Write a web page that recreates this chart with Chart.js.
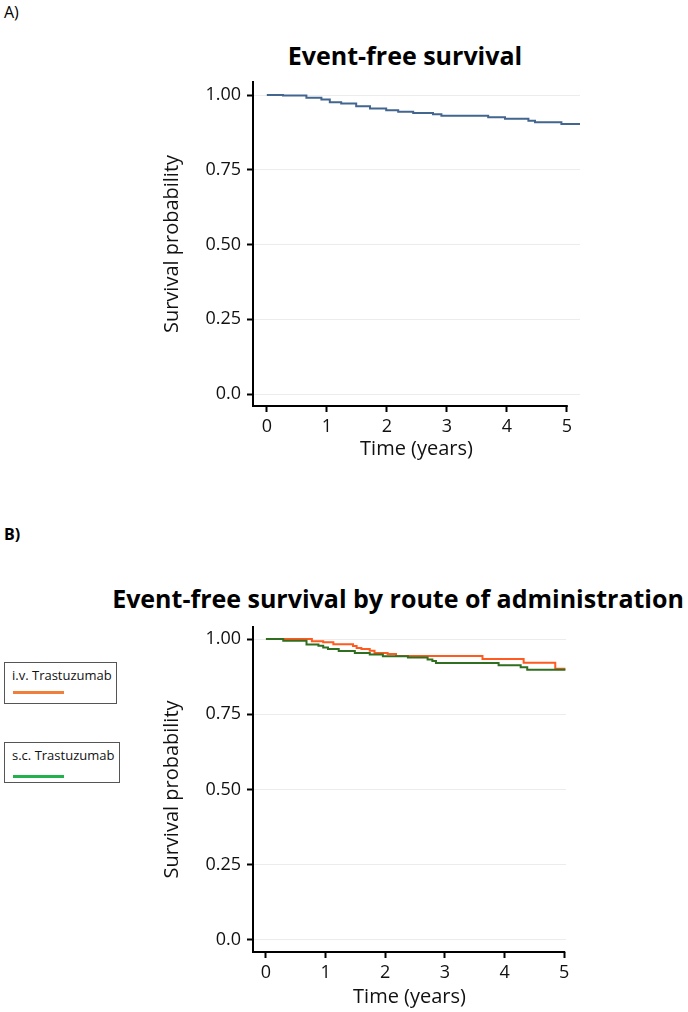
<!DOCTYPE html>
<html>
<head>
<meta charset="utf-8">
<script src="https://cdn.jsdelivr.net/npm/chart.js@4/dist/chart.umd.min.js"></script>
<style>
  body { margin: 0; background: #fff; font-family: "Open Sans", sans-serif; }
  #page { position: relative; width: 688px; height: 1012px; overflow: hidden; }
  .abs { position: absolute; }
  .panel { position: absolute; left: 4px; font-size: 16px; color: #000; }
  .ttl { position: absolute; font-weight: bold; font-size: 25px; color: #000; white-space: nowrap; transform: translate(-50%, -50%); }
  .lg { position: absolute; left: 4px; border: 1px solid #555; background: #fff; box-sizing: border-box; }
  .lg span { position: absolute; left: 7px; font-size: 13px; color: #111; white-space: nowrap; }
  .lg i { position: absolute; left: 8px; width: 51px; height: 3px; }
</style>
</head>
<body>
<div id="page">
  <div class="panel" style="top:1px;">A)</div>
  <div class="panel" style="top:523px;font-weight:bold;">B)</div>
  <div class="ttl" style="left:405px;top:55px;">Event-free survival</div>
  <div class="ttl" style="left:398px;top:598px;">Event-free survival by route of administration</div>

  <div class="abs" style="left:0;top:0;width:688px;height:480px;"><canvas id="chartA" width="688" height="480"></canvas></div>
  <div class="abs" style="left:0;top:480px;width:688px;height:532px;"><canvas id="chartB" width="688" height="532"></canvas></div>

  <div class="lg" style="top:662px;width:113px;height:42px;">
    <span style="top:3px;">i.v. Trastuzumab</span>
    <i style="top:28px;background:#f07f3c;"></i>
  </div>
  <div class="lg" style="top:742px;width:116px;height:41px;">
    <span style="top:3px;">s.c. Trastuzumab</span>
    <i style="top:32px;background:#22b14c;"></i>
  </div>
</div>
<script>
// Datos (tiempo en años, probabilidad de supervivencia)
var tiempoA = [0, 0.27, 0.66, 0.91, 1.05, 1.24, 1.49, 1.72, 1.99, 2.19, 2.44, 2.77, 2.91, 3.69, 3.97, 4.36, 4.47, 4.91, 5.22];
var survA   = [1.0, 0.998, 0.991, 0.985, 0.976, 0.972, 0.962, 0.955, 0.949, 0.944, 0.94, 0.936, 0.931, 0.926, 0.921, 0.914, 0.909, 0.903, 0.903];

var tiempoIV = [0, 0.77, 0.96, 1.13, 1.46, 1.52, 1.6, 1.74, 1.82, 2.04, 2.18, 3.63, 4.32, 4.85, 5.02];
var survIV   = [1.0, 0.993, 0.989, 0.983, 0.977, 0.97, 0.967, 0.961, 0.954, 0.95, 0.944, 0.934, 0.921, 0.901, 0.901];

var tiempoSC = [0, 0.29, 0.68, 0.88, 0.96, 1.04, 1.22, 1.49, 1.74, 1.96, 2.38, 2.71, 2.79, 2.85, 3.9, 4.27, 4.38, 5.02];
var survSC   = [1.0, 0.994, 0.982, 0.978, 0.972, 0.967, 0.96, 0.954, 0.949, 0.943, 0.939, 0.932, 0.927, 0.92, 0.913, 0.906, 0.898, 0.898];

var xTicks = [0, 1, 2, 3, 4, 5];
var yTicks = [0, 0.25, 0.5, 0.75, 1.0];
var yTickLabels = ["0.0", "0.25", "0.50", "0.75", "1.00"];

var FONT = "'Open Sans', sans-serif";

function puntos(t, s) {
  return t.map(function (v, i) { return { x: v, y: s[i] }; });
}

// Dibuja la línea del eje X solo hasta el último tick (como en la figura)
var ejeXPlugin = {
  id: "ejeX",
  afterDraw: function (chart) {
    var ctx = chart.ctx, a = chart.chartArea, xs = chart.scales.x;
    ctx.save();
    ctx.strokeStyle = "#000";
    ctx.lineWidth = 2;
    ctx.beginPath();
    ctx.moveTo(a.left - 1, a.bottom);
    ctx.lineTo(xs.getPixelForValue(5) + 1, a.bottom);
    ctx.stroke();
    ctx.restore();
  }
};

function crearGrafica(id, datasets, cfg) {
  return new Chart(document.getElementById(id), {
    type: "line",
    data: { datasets: datasets },
    options: {
      responsive: false,
      animation: false,
      layout: { padding: { left: 160, right: cfg.right, top: cfg.top, bottom: cfg.bottom } },
      plugins: { legend: { display: false }, tooltip: { enabled: false } },
      elements: { point: { radius: 0 }, line: { tension: 0 } },
      scales: {
        x: {
          type: "linear",
          min: cfg.xmin, max: cfg.xmax,
          afterBuildTicks: function (s) { s.ticks = xTicks.map(function (v) { return { value: v }; }); },
          afterFit: function (s) { s.height = cfg.xh; },
          grid: { drawOnChartArea: false, drawTicks: true, tickLength: 6, tickColor: "#000", tickWidth: 2 },
          border: { display: false },
          ticks: { color: "#111", font: { family: FONT, size: 18 }, padding: 4, maxRotation: 0 },
          title: { display: true, text: "Time (years)", color: "#111", font: { family: FONT, size: 20 }, padding: 0 }
        },
        y: {
          type: "linear",
          min: cfg.ymin, max: cfg.ymax,
          afterBuildTicks: function (s) { s.ticks = yTicks.map(function (v) { return { value: v }; }); },
          afterFit: function (s) { s.width = 93; },
          grid: { color: "#ececec", lineWidth: 1, drawTicks: true, tickLength: 6, tickColor: "#000", tickWidth: 2 },
          border: { display: true, color: "#000", width: 2 },
          ticks: {
            color: "#111", font: { family: FONT, size: 18 }, padding: 6,
            callback: function (v) { var i = yTicks.indexOf(v); return i >= 0 ? yTickLabels[i] : ""; }
          },
          title: { display: true, text: "Survival probability", color: "#111", font: { family: FONT, size: 20 }, padding: 0 }
        }
      }
    },
    plugins: [ejeXPlugin]
  });
}

crearGrafica("chartA", [{
  label: "Event-free survival",
  data: puntos(tiempoA, survA),
  borderColor: "#42668f",
  borderWidth: 2,
  stepped: "before",
  fill: false
}], { right: 108, top: 82, bottom: 19, xh: 55, xmin: -0.23, xmax: 5.22, ymin: -0.04, ymax: 1.0435 });

crearGrafica("chartB", [{
  label: "s.c. Trastuzumab",
  data: puntos(tiempoSC, survSC),
  borderColor: "#2f6f1f",
  borderWidth: 2,
  stepped: "before",
  fill: false
}, {
  label: "i.v. Trastuzumab",
  data: puntos(tiempoIV, survIV),
  borderColor: "#ff5a1f",
  borderWidth: 2,
  stepped: "before",
  fill: false
}], { right: 122, top: 147, bottom: 3, xh: 57, xmin: -0.217, xmax: 5.03, ymin: -0.04, ymax: 1.04 });
</script>
</body>
</html>
